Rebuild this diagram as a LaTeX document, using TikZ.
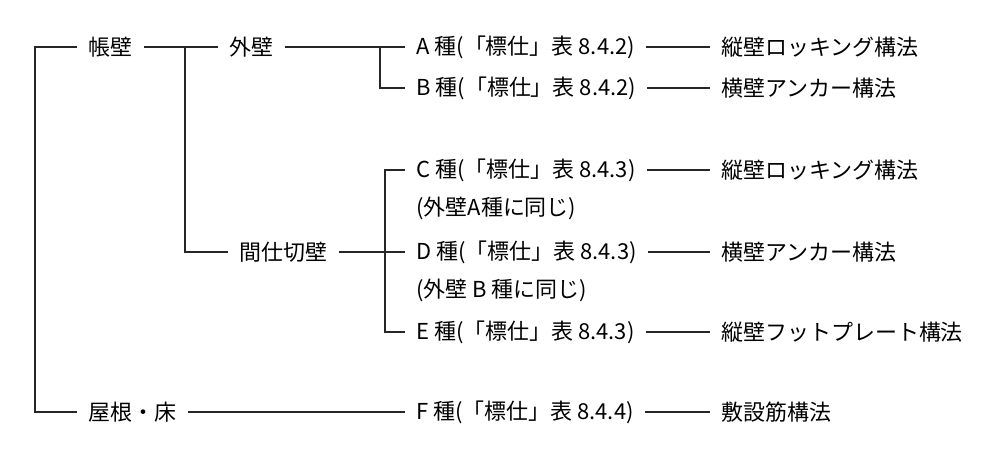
\documentclass[tikz,border=0pt]{standalone}
\usepackage{fontspec}
\newfontfamily\jp{Noto Sans CJK JP}
\usetikzlibrary{positioning}
\begin{document}
\begin{tikzpicture}[x=0.02cm,y=-0.02cm,
    item/.style={anchor=west, inner xsep=0.22cm, inner ysep=0pt, font=\jp\fontsize{12.5pt}{15pt}\selectfont},
    line/.style={draw=black!85, line width=0.7pt}
]
\useasboundingbox (0,0) rectangle (1000,452);

% left column
\coordinate (root) at (35,47);
\node[item] (chou) at (77,47) {帳壁};
\node[item] (yane) at (77,412) {屋根・床};

% second column
\coordinate (b1) at (185,47);
\node[item] (gai) at (218,47) {外壁};
\node[item] (mashi) at (228,252) {間仕切壁};

% wall types
\coordinate (b2) at (380,47);
\coordinate (b3) at (385,252);
\node[item] (ta) at (405,47) {A 種(「標仕」表 8.4.2)};
\node[item] (tb) at (405,88) {B 種(「標仕」表 8.4.2)};
\node[item] (tc) at (405,170) {C 種(「標仕」表 8.4.3)};
\node[item] (nc) at (405,208) {(外壁A種に同じ)};
\node[item] (td) at (405,252) {D 種(「標仕」表 8.4.3)};
\node[item] (nd) at (405,290) {(外壁 B 種に同じ)};
\node[item] (te) at (405,332) {E 種(「標仕」表 8.4.3)};
\node[item] (tf) at (405,412) {F 種(「標仕」表 8.4.4)};

% methods
\node[item] (ma) at (710,47) {縦壁ロッキング構法};
\node[item] (mb) at (710,88) {横壁アンカー構法};
\node[item] (mc) at (710,170) {縦壁ロッキング構法};
\node[item] (md) at (710,252) {横壁アンカー構法};
\node[item] (me) at (710,332) {縦壁フットプレート構法};
\node[item] (mf) at (710,412) {敷設筋構法};

% connectors
\draw[line] (chou.west) -- (root) |- (yane.west);
\draw[line] (chou.east) -- (gai.west);
\draw[line] (b1) |- (mashi.west);
\draw[line] (gai.east) -- (ta.west);
\draw[line] (b2) |- (tb.west);
\draw[line] (mashi.east) -- (td.west);
\draw[line] (tc.west) -| (b3) |- (te.west);
\draw[line] (yane.east) -- (tf.west);
\foreach \t/\m in {ta/ma, tb/mb, tc/mc, td/md, te/me, tf/mf}
  \draw[line] (\t.east) -- (\m.west);
\end{tikzpicture}
\end{document}
